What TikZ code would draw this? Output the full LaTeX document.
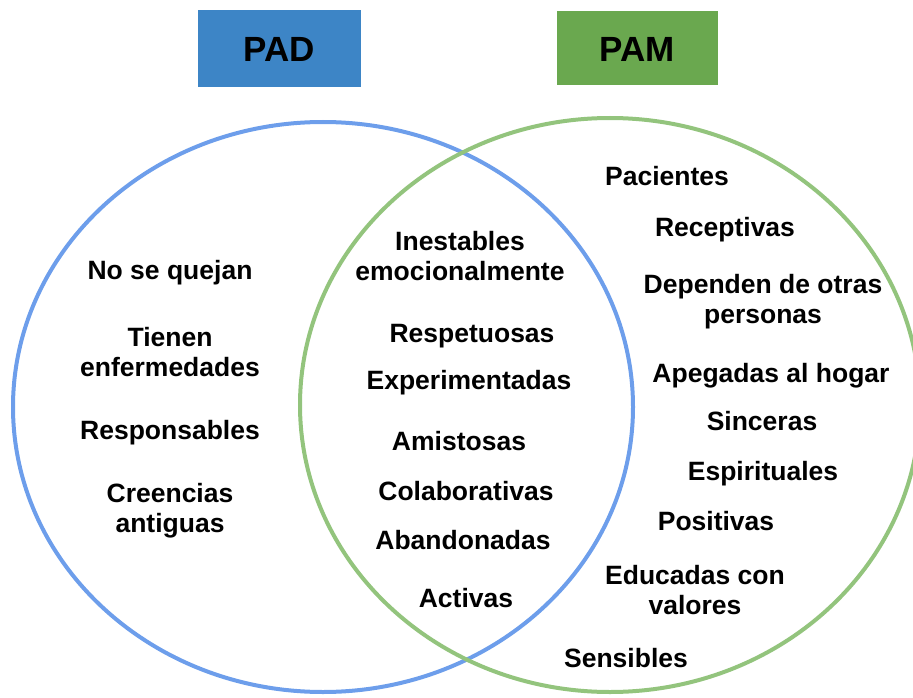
\documentclass[tikz,border=0pt]{standalone}
\usepackage{fontspec}
\setmainfont{Liberation Sans}
\definecolor{padfill}{HTML}{3D85C6}
\definecolor{pamfill}{HTML}{6AA84F}
\definecolor{padline}{HTML}{6D9EEB}
\definecolor{pamline}{HTML}{93C47D}
\begin{document}
\begin{tikzpicture}[x=1pt,y=-1pt,
  lbl/.style={font=\fontsize{26.5}{30}\selectfont\bfseries, align=center, inner sep=0pt},
  head/.style={font=\fontsize{35}{40}\selectfont\bfseries, inner sep=0pt},
  ring/.style={line width=4pt}]
\useasboundingbox (0,0) rectangle (913,698);
\clip (0,0) rectangle (913,698);
% header boxes
\fill[padfill] (198,10) rectangle (361,87);
\node[head] (padh) at (279.5,49) {PAD};
\fill[pamfill] (557,11) rectangle (718,85);
\node[head] (pamh) at (637.5,49) {PAM};
% ellipses
\draw[ring, padline] (323,407) ellipse [x radius=310, y radius=285];
\draw[ring, pamline] (610,405) ellipse [x radius=310, y radius=287];
% left labels
\node[lbl] (l1) at (170,273) {No se quejan};
\node[lbl] (l2) at (170,352) {Tienen\\enfermedades};
\node[lbl] (l3) at (170,433) {Responsables};
\node[lbl] (l4) at (170,511) {Creencias\\antiguas};
% middle labels
\node[lbl] (m1) at (460,256) {Inestables\\emocionalmente};
\node[lbl] (m2) at (472,336) {Respetuosas};
\node[lbl] (m3) at (469,383) {Experimentadas};
\node[lbl] (m4) at (459,441) {Amistosas};
\node[lbl] (m5) at (466,491) {Colaborativas};
\node[lbl] (m6) at (463,540) {Abandonadas};
\node[lbl] (m7) at (466,598) {Activas};
% right labels
\node[lbl] (r1) at (667,176) {Pacientes};
\node[lbl] (r2) at (725,230) {Receptivas};
\node[lbl] (r3) at (763,302) {Dependen de otras\\personas};
\node[lbl] (r4) at (771,376) {Apegadas al hogar};
\node[lbl] (r5) at (762,421) {Sinceras};
\node[lbl] (r6) at (763,474) {Espirituales};
\node[lbl] (r7) at (716,521) {Positivas};
\node[lbl] (r8) at (695,590) {Educadas con\\valores};
\node[lbl] (r9) at (626,658) {Sensibles};
\end{tikzpicture}
\end{document}
